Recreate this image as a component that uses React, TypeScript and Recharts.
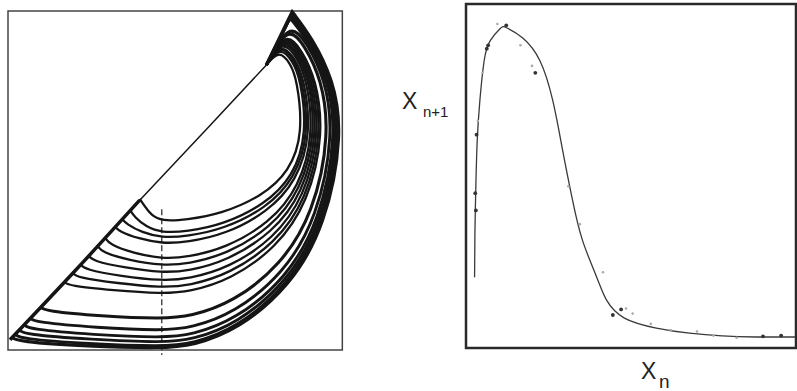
import React from 'react'
import { ScatterChart, Scatter, XAxis, YAxis, ReferenceArea, ReferenceLine } from 'recharts'

type Pt = [number, number]

// ---- left panel: phase portrait, arbitrary units (0-100 on both axes) ----
// each loop: leaves the diagonal, over its arch (outer loops reach the sharp tip), down the right side,
// round the bowl and back onto the diagonal
const loop01: Pt[] = [[77.3, 84.1], [81.0, 88.5], [84.5, 84.5], [86.4, 80], [88.3, 64], [84.2, 52.6], [75.8, 45.3], [63.9, 40.2], [53.2, 38.4], [46, 38.0], [42.7, 39.9], [40.9, 42.4], [39.4, 44.6]]
const loop02: Pt[] = [[77.3, 84.1], [81.4, 89.6], [85.2, 85.2], [87.5, 80], [89.5, 64], [85.3, 51.1], [76.7, 42.9], [64.4, 37.0], [53.4, 34.9], [46, 34.6], [41.2, 36.4], [37.9, 39.2], [36.4, 41.4]]
const loop03: Pt[] = [[77.3, 84.1], [81.6, 90.2], [85.5, 85.7], [88.0, 80], [90.1, 64], [85.8, 50.5], [77.1, 41.8], [64.6, 35.7], [53.5, 33.5], [46, 33.1], [40.0, 34.7], [35.5, 37.1], [34.0, 38.8]]
const loop04: Pt[] = [[77.3, 84.1], [81.8, 90.7], [85.8, 86.0], [88.6, 80], [90.7, 64], [86.4, 49.8], [77.5, 40.6], [64.9, 34.1], [53.6, 31.8], [46, 31.4], [39.0, 32.9], [33.4, 34.9], [31.9, 36.5]]
const loop05: Pt[] = [[77.3, 84.1], [82.1, 91.5], [86.3, 86.6], [89.3, 80], [91.5, 64], [87.1, 47.9], [78.1, 37.4], [65.2, 30.1], [53.8, 27.4], [46, 26.9], [37.5, 28.6], [30.4, 31.1], [28.9, 33.3]]
const loop06: Pt[] = [[77.3, 84.1], [82.3, 92.1], [86.6, 87.0], [90.0, 80], [92.1, 64], [87.6, 47.0], [78.5, 36.0], [65.5, 28.3], [53.9, 25.4], [46, 24.9], [36.3, 26.5], [28.1, 28.8], [26.6, 30.9]]
const loop07: Pt[] = [[77.3, 84.1], [82.5, 92.7], [86.9, 87.4], [90.5, 80], [92.7, 64], [88.2, 46.2], [79.0, 34.5], [65.7, 26.4], [54.0, 23.3], [46, 22.8], [35.0, 24.3], [25.4, 26.2], [23.9, 28.0]]
const loop08: Pt[] = [[77.3, 84.1], [82.7, 93.2], [87.3, 87.7], [91.0, 80], [93.3, 64], [88.7, 45.1], [79.4, 32.8], [66.0, 24.2], [54.1, 21.0], [46, 20.4], [33.8, 21.8], [23.0, 23.7], [21.5, 25.4]]
const loop09: Pt[] = [[77.3, 84.1], [82.9, 93.8], [87.6, 88.1], [91.6, 80], [93.9, 64], [89.3, 44.3], [79.8, 31.4], [66.2, 22.4], [54.2, 19.0], [46, 18.4], [32.6, 19.7], [20.6, 21.4], [19.1, 22.9]]
const loop10: Pt[] = [[77.3, 84.1], [83.1, 94.3], [87.9, 88.4], [92.1, 80], [94.5, 64], [89.8, 43.5], [80.2, 30.1], [66.5, 20.7], [54.3, 17.2], [46, 16.6], [31.4, 17.6], [18.2, 18.9], [16.7, 20.2]]
const loop11: Pt[] = [[77.3, 84.1], [83.7, 96.0], [88.9, 89.6], [93.7, 80], [96.3, 64], [91.4, 40.4], [81.5, 24.9], [67.2, 14.0], [54.6, 9.9], [46, 9.2], [27.8, 10.0], [11.1, 11.5], [9.6, 12.7]]
const loop12: Pt[] = [[77.3, 84.1], [84.1, 97.1], [89.6, 90.4], [94.8, 80], [97.5, 64], [92.5, 38.9], [82.3, 22.4], [67.7, 10.9], [54.8, 6.5], [46, 5.7], [26.3, 6.6], [8.1, 8.2], [6.6, 9.4]]
const loop13: Pt[] = [[77.3, 84.1], [84.4, 97.9], [84.4, 97.9], [90.0, 90.9], [95.6, 80], [98.4, 64], [93.3, 38.0], [83.0, 20.9], [68.1, 9.0], [55.0, 4.4], [46, 3.6], [25.4, 4.5], [6.3, 6.1], [4.8, 7.5]]
const loop14: Pt[] = [[77.3, 84.1], [84.6, 98.4], [84.6, 98.4], [84.6, 98.4], [90.4, 91.2], [96.1, 80], [99.0, 64], [93.9, 37.4], [83.4, 19.9], [68.4, 7.7], [55.1, 3.0], [46, 2.2], [24.7, 3.1], [4.8, 4.6], [3.3, 6.0]]
const loop15: Pt[] = [[77.3, 84.1], [84.8, 99.0], [84.8, 99.0], [84.8, 99.0], [90.7, 91.7], [96.7, 80], [99.6, 64], [94.4, 36.9], [83.8, 19.1], [68.6, 6.6], [55.2, 1.8], [46, 1.0], [24.0, 1.8], [3.6, 3.3], [2.1, 4.7]]
const loop16: Pt[] = [[77.3, 84.1], [85.0, 99.8], [85.0, 99.8], [85.0, 99.8], [91.0, 92.0], [97.2, 80], [100.2, 64], [95.0, 36.7], [84.3, 18.7], [68.9, 6.1], [55.3, 1.3], [46, 0.5], [23.6, 1.1], [2.7, 2.5], [1.2, 3.8]]

const loops = [loop01, loop02, loop03, loop04, loop05, loop06, loop07, loop08,
  loop09, loop10, loop11, loop12, loop13, loop14, loop15, loop16]
// line weight of each loop (outer ones are the heavy band)
const loopWeights = [2.3, 2.3, 2.3, 2.3, 2.3, 2.3, 2.3, 2.3, 2.3, 2.3, 3.1, 2.9, 2.9, 2.9, 2.9, 3.2]

// the return path along the diagonal
const diagonalLow: Pt[] = [[0.6, 3.0], [20, 23.3], [39.4, 44.2]]
const diagonalMid: Pt[] = [[39.4, 44.2], [60, 65.8], [77.3, 84.1]]

// dashed section line
const sectionX = 46
const sectionTop = 41.5
const sectionBottom = -1.5

// ---- right panel: return map x(n+1) vs x(n) ----
const mapCurve: Pt[] = [[2.6, 20.6], [2.7, 33.3], [3.0, 47.8], [3.4, 60.3], [4.2, 71.9], [5.5, 83.5],
  [7.3, 89.3], [10.3, 92.8], [12.3, 93.1], [17.2, 90.1], [22.4, 83.5], [26.3, 71.9], [29.3, 57.4],
  [32.3, 42.9], [35.3, 31.3], [39.6, 20.6], [42.6, 13.9], [48.0, 8.7], [57.7, 5.8], [67.7, 4.3],
  [77.6, 3.5], [87.9, 3.2], [99.7, 3.2]]
const mapDark: Pt[] = [[6.3, 87], [6.7, 88], [21.0, 80.0], [2.8, 45], [3.0, 40], [3.2, 62], [12.2, 93.8],
  [47, 11.2], [44.5, 9.6], [90, 3.4], [95.5, 3.6]]
const mapLight: Pt[] = [[9.5, 94.2], [16.5, 88], [20, 82], [31, 47], [34.5, 36], [41.5, 22], [48.5, 11.5],
  [50.5, 10], [56, 7], [62, 5.2], [70, 4.8], [75, 3.6], [82, 3.0], [3.6, 66], [5.0, 80]]

const rows = (pts: Pt[]) => pts.map(([x, y]) => ({ x, y }))
const noDot = () => null

const trace = (key: string, pts: Pt[], type: any, width: number, color = '#151515') => (
  <Scatter
    key={key}
    data={rows(pts)}
    line={{ stroke: color, strokeWidth: width }}
    lineJointType={type}
    shape={noDot}
    isAnimationActive={false}
  />
)

const dots = (key: string, pts: Pt[], r: number, color: string) => (
  <Scatter
    key={key}
    data={rows(pts)}
    shape={(p: any) => <circle cx={p.cx} cy={p.cy} r={r} fill={color} />}
    isAnimationActive={false}
  />
)

const labelFont = '"Liberation Sans", Arial, sans-serif'

export default function App() {
  return (
    <div style={{ position: 'absolute', left: 0, top: 0, width: 797, height: 391, background: '#fff', overflow: 'hidden', fontFamily: labelFont, color: '#222' }}>
      <div style={{ position: 'absolute', left: 0, top: 0 }}>
        <ScatterChart width={360} height={391} margin={{ top: 11, right: 17, bottom: 41, left: 8 }}>
          <XAxis type="number" dataKey="x" domain={[0, 100]} hide />
          <YAxis type="number" dataKey="y" domain={[0, 100]} hide />
          <ReferenceArea x1={0} x2={100} y1={0} y2={100} fill="none" stroke="#444" strokeWidth={1.5} ifOverflow="visible" />
          {trace('dl', diagonalLow, 'monotoneX', 3.5)}
          {trace('dm', diagonalMid, 'monotoneX', 1.5)}
          {loops.map((l, i) => trace('loop' + i, l, 'basis', loopWeights[i]))}
          <ReferenceLine
            segment={[{ x: sectionX, y: sectionTop }, { x: sectionX, y: sectionBottom }]}
            stroke="#222" strokeWidth={1.2} strokeDasharray="6 3" ifOverflow="visible"
          />
        </ScatterChart>
      </div>

      <div style={{ position: 'absolute', left: 390, top: 0 }}>
        <ScatterChart width={407} height={391} margin={{ top: 4, right: 1, bottom: 43, left: 76 }}>
          <XAxis type="number" dataKey="x" domain={[0, 100]} hide />
          <YAxis type="number" dataKey="y" domain={[0, 100]} hide />
          <ReferenceArea x1={0} x2={100} y1={0} y2={100} fill="none" stroke="#2a2a2a" strokeWidth={2.5} ifOverflow="visible" />
          {trace('map', mapCurve, 'natural', 1.3, '#3a3a3a')}
          {dots('light', mapLight, 1.3, '#aaa')}
          {dots('dark', mapDark, 1.9, '#333')}
        </ScatterChart>
      </div>

      <div style={{ position: 'absolute', left: 402, top: 90, fontSize: 23, lineHeight: 1 }}>X</div>
      <div style={{ position: 'absolute', left: 423, top: 104, fontSize: 15, lineHeight: 1 }}>n+1</div>
      <div style={{ position: 'absolute', left: 641, top: 360, fontSize: 23, lineHeight: 1 }}>X</div>
      <div style={{ position: 'absolute', left: 659, top: 372, fontSize: 19, lineHeight: 1 }}>n</div>
    </div>
  )
}
